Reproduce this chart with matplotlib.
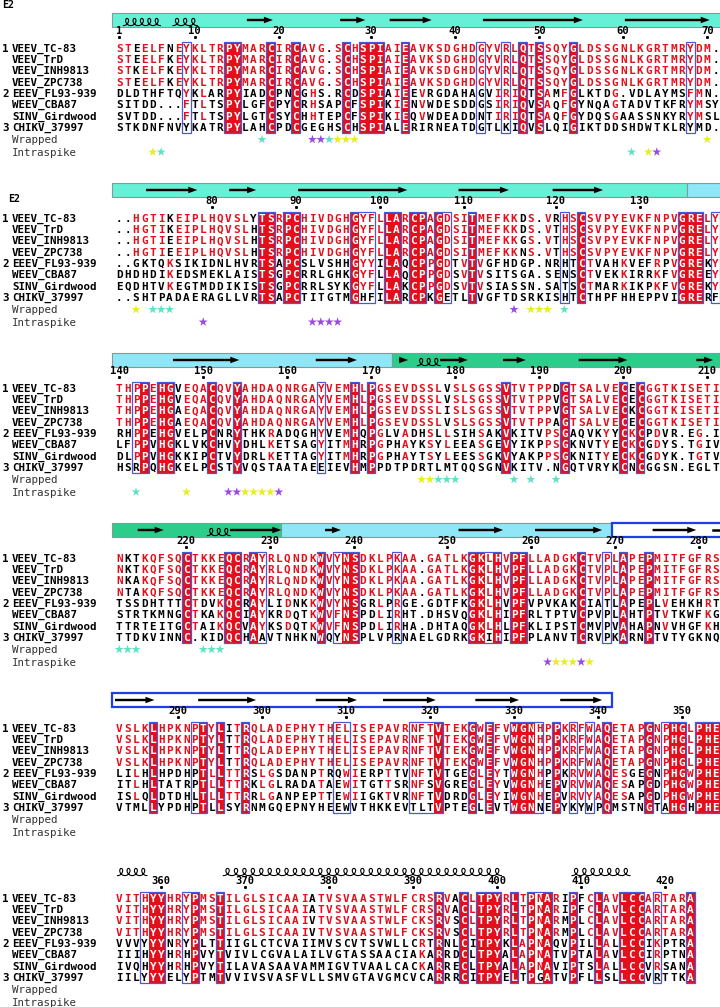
import matplotlib.pyplot as plt
from matplotlib.patches import Rectangle, FancyArrow
import numpy as np

names = ['VEEV_TC-83', 'VEEV_TrD', 'VEEV_INH9813', 'VEEV_ZPC738',
         'EEEV_FL93-939', 'WEEV_CBA87', 'SINV_Girdwood', 'CHIKV_37997']
group_tags = ['1', '', '', '', '2', '', '', '3']
groups = [[0, 1, 2, 3], [4, 5, 6], [7]]

seq_b1 = [
    "STEELFNEYKLTRPYMARCIRCAVG.SCHSPIAIEAVKSDGHDGYVRLQTSSQYGLDSSGNLKGRTMRYDM.",
    "STEELFKEYKLTRPYMARCIRCAVG.SCHSPIAIEAVKSDGHDGYVRLQTSSQYGLDSSGNLKGRTMRYDM.",
    "STKELFKEYKLTRPYMARCIRCAVG.SCHSPIAIEAVKSDGHDGYVRLQTSSQYGLDSSGNLKGRTMRYDM.",
    "STEELFKEYKLTRPYMARCIRCAVG.SCHSPIAIEAVKSDGHDGYVRLQTSSQYGLDSSGNLKGRTMRYDM.",
    "DLDTHFTQYKLARPYIADCPNCGHS.RCDSPIAIEEVRGDAHAGVIRIQTSAMFGLKTDG.VDLAYMSFMN.",
    "SITDD...FTLTSPYLGFCPYCRHSAPCFSPIKIENVWDESDDGSIRIQVSAQFGYNQAGTADVTKFRYMSY",
    "SVTDD...FTLTSPYLGTCSYCHHTEPCFSPIKIEQVWDEADDNTIRIQTSAQFGYDQSGAASSNKYRYMSL",
    "STKDNFNVYKATRPYLAHCPDCGEGHSCHSPIALERIRNEATDGTLKIQVSLQIGIKTDDSHDWTKLRYMD.",
]
seq_b2 = [
    "..HGTIKEIPLHQVSLYTSRPCHIVDGHGYFLLARCPAGDSITMEFKKDS.VRHSCSVPYEVKFNPVGRELY",
    "..HGTIKEIPLHQVSLHTSRPCHIVDGHGYFLLARCPAGDSITMEFKKDS.VTHSCSVPYEVKFNPVGRELY",
    "..HGTIEEIPLHQVSLHTSRPCHIVDGHGYFLLARCPAGDSITMEFKKGS.VTHSCSVPYEVKFNPVGRELY",
    "..HGTIEEIPLHQVSLHTSRPCHIVDGHGYFLLARCPAGDSITMEFKKNS.VTHSCSVPYEVKFNPVGRELY",
    "..GKTQKSIKIDNLHVRTSAPCSLVSHHGYYILAQCPPGDTVTVGFHDGP.NRHTCTVAHKVEFRPVGREKY",
    "DHDHDIKEDSMEKLAISTSGPCRRLGHKGYFLLAQCPPGDSVTVSITSGA.SENSCTVEKKIRRKFVGREEY",
    "EQDHTVKEGTMDDIKISTSGPCRRLSYKGYFLLAKCPPGDSVTVSIASSN.SATSCTMARKIKPKFVGREKY",
    "..SHTPADAERAGLLVRTSAPCTITGTMGHFILARCPKGETLTVGFTDSRKISHTCTHPFHHEPPVIGRERF",
]
seq_b3 = [
    "THPPEHGVEQACQVYAHDAQNRGAYVEMHLPGSEVDSSLVSLSGSSVTVTPPDGTSALVECECGGTKISETI",
    "THPPEHGVEQACQVYAHDAQNRGAYVEMHLPGSEVDSSLVSLSGSSVTVTPPVGTSALVECECGGTKISETI",
    "THPPEHGAEQACQVYAHDAQNRGAYVEMHLPGSEVDSSLISLSGSSVTVTPPVGTSALVECKCGGTKISETI",
    "THPPEHGAEQACQVYAHDAQNRGAYVEMHLPGSEVDSSLVSLSGSSVTVTPPAGTSALVECECGGTKISETI",
    "RHPPEHGVELPCNRYTHKRADQGHYVEMHQPGLVADHSLLSIHSAKVKITVPSGAQVKYYCKCPDVR.EG.I",
    "LFPPVHGKLVKCHVYDHLKETSAGYITMHRPGPHAYKSYLEEASGEVYIKPPSGKNVTYECKCGDYS.TGIV",
    "DLPPVHGKKIPCTVYDRLKETTAGYITMHRPGPHAYTSYLEESSGKVYAKPPSGKNITYECKCGDYK.TGTV",
    "HSRPQHGKELPCSTYVQSTAATAEEIEVHMPPDTPDRTLMTQQSGNVKITV.NGQTVRYKCNCGGSN.EGLT",
]
seq_b4 = [
    "NKTKQFSQCTKKEQCRAYRLQNDKWVYNSDKLPKAA.GATLKGKLHVPFLLADGKCTVPLAPEPMITFGFRS",
    "NKTKQFSQCTKKEQCRAYRLQNDKWVYNSDKLPKAA.GATLKGKLHVPFLLADGKCTVPLAPEPMITFGFRS",
    "NKAKQFSQCTKKEQCRAYRLQNDKWVYNSDKLPKAA.GATLKGKLHVPFLLADGKCTVPLAPEPMITFGFRS",
    "NTAKQFSQCTKKEQCRAYRLQNDKWVYNSDKLPKAA.GATLKGKLHVPFLLADGKCTVPLAPEPMITFGFRS",
    "TSSDHTTTCTDVKQCRAYLIDNKKWVYNSGRLPRGE.GDTFKGKLHVPFVPVKAKCIATLAPEPLVEHKHRT",
    "STRTKMNGCTKAKQCIAYKRDQTKWVFNSPDLIRHT.DHSVQGKLHIPFRLTPTVCPVPLAHTPTVTKWFKG",
    "TTRTEITGCTAIKQCVAYKSDQTKWVFNSPDLIRHA.DHTAQGKLHLPFKLIPSTCMVPVAHAPNVVHGFKH",
    "TTDKVINNC.KIDQCHAAVTNHKNWQYNSPLVPRNAELGDRKGKIHIPFPLANVTCRVPKARNPTVTYGKNQ",
]
seq_b5 = [
    "VSLKLHPKNPTYLITRQLADEPHYTHELISEPAVRNFTVTEKGWEFVWGNHPPKRFWAQETAPGNPHGLPHE",
    "VSLKLHPKNPTYLTTRQLADEPHYTHELISEPAVRNFTVTEKGWEFVWGNHPPKRFWAQETAPGNPHGLPHE",
    "VSLKLHPKNPTYLTTRQLADEPHYTHELISEPAVRNFTVTEKGWEFVWGNHPPKRFWAQETAPGNPHGLPHE",
    "VSLKLHPKNPTYLTTRQLADEPHYTHELISEPAVRNFTVTEKGWEFVWGNHPPKRFWAQETAPGNPHGLPHE",
    "LILHLHPDHPTLLTTRSLGSDANPTRQWIERPTTVNFTVTGEGLEYTWGNHPPKRVWAQESGEGNPHGWPHE",
    "ITLHLTATRPTLLTTRKLGLRADATAEWITGTTSRNFSVGREGLEYVWGNHEPVRVWAQESAPGDPHGWPHE",
    "ISLQLDTDHLTLLTTRRLGANPEPTTEWIIGKTVRNFTVDRDGLEYIWGNHEPVRVYAQESAPGDPHGWPHE",
    "VTMLLYPDHPTLLSYRNMGQEPNYHEEWVTHKKEVTLTVPTEGLEVTWGNNEPYKYWPQMSTNGTAHGHPHE",
]
seq_b6 = [
    "VITHYYHRYPMSTILGLSICAAIATVSVAASTWLFCRSRVACLTPYRLTPNARIPFCLAVLCCARTARA",
    "VITHYYHRYPMSTILGLSICAAIATVSVAASTWLFCRSRVACLTPYRLTPNARIPFCLAVLCCARTARA",
    "VITHYYHRYPMSTILGLSICAAIVTVSVAASTWLFCKSRVSCLTPYRLTPNARMPLCLAVLCCARTARA",
    "VITHYYHRYPMSTILGLSICAAIVTVSVAASTWLFCKSRVSCLTPYRLTPNARMPLCLAVLCCARTARA",
    "VVVYYYNRYPLTTIIGLCTCVAIIMVSCVTSVWLLCRTRNLCITPYKLAPNAQVPILLALLCCIKPTRA",
    "IIIHYYHRHPVYTVIVLCGVALAILVGTASSAACIAKARRDCLTPYALAPNATVPTALAVLCCIRPTNA",
    "IVQHYYHRHPVYTILAVASAAVAMMIGVTVAALCACKARRECLTPYALAPNAVIPTSLALLCCVRSANA",
    "IILYYYELYPTMTVVIVSVASFVLLSMVGTAVGMCVCARRRCITPYELTPGATVPFLLSLLCCVRTTKA",
]

# columns (1-based) framed for similarity across groups, besides strict identity
similar_b1 = [9, 44, 47, 69]
similar_b2 = [30, 31, 40, 54, 72]
similar_b3 = [3, 25]
similar_b4 = [18, 27, 34, 45, 59]
similar_b5 = [10, 27, 28, 36, 37, 38, 51, 55, 57, 66]
similar_b6 = [4, 9, 51, 65]

# secondary structure, in column units
bars_b1 = [(-0.3, 72.5, 'turq')]
bars_b2 = [(-0.4, 68.1, 'turq'), (68.1, 72.5, 'light')]
bars_b3 = [(-0.3, 33.0, 'light'), (33.0, 72.5, 'green')]
bars_b4 = [(-0.3, 19.8, 'green'), (19.8, 59.2, 'light'), (59.2, 72.5, 'box')]
bars_b5 = [(-0.3, 59.2, 'box')]
bars_b6 = []

strands_b1 = [(15.7, 18.8), (26.8, 29.8), (32.7, 37.7), (43.8, 55.7), (60.7, 70.8)]
strands_b2 = [(3.7, 9.8), (13.6, 16.8), (21.8, 34.8), (40.9, 46.9), (52.1, 58.1)]
strands_b3 = [(6.9, 14.8), (23.9, 28.8), (33.8, 34.9), (38.7, 42.0), (46.2, 48.9),
              (55.2, 61.0), (69.2, 71.2)]
strands_b4 = [(2.7, 5.8), (13.7, 19.8), (25.0, 26.9), (40.9, 46.2), (50.0, 58.0),
              (64.0, 69.2)]
strands_b5 = [(0.0, 4.7), (9.9, 16.8), (23.9, 28.8), (31.9, 38.2), (42.9, 48.1),
              (53.0, 58.0)]
strands_b6 = []

tails_b4 = [(71.2, 72.5)]

helices_b1 = [(1.0, 5.4, 5), (6.9, 9.8, 3)]
helices_b3 = [(36.0, 38.7, 3)]
helices_b4 = [(11.0, 13.7, 3)]
helices_b6 = [(0.3, 3.8, 4), (12.9, 46.0, 33), (54.4, 61.3, 7)]

# stars: (column, class)  y = yellow, c = cyan, p = purple
wrapped_b1 = [(18, 'c'), (24, 'p'), (25, 'p'), (26, 'c'), (27, 'y'), (28, 'y'), (29, 'y'), (71, 'y')]
intra_b1 = [(5, 'y'), (6, 'c'), (62, 'c'), (64, 'y'), (65, 'p')]
wrapped_b2 = [(3, 'y'), (5, 'c'), (6, 'c'), (7, 'c'), (48, 'p'), (50, 'y'), (51, 'y'), (52, 'y'), (54, 'c')]
intra_b2 = [(11, 'p'), (24, 'p'), (25, 'p'), (26, 'p'), (27, 'p')]
wrapped_b3 = [(37, 'y'), (38, 'y'), (39, 'c'), (40, 'c'), (41, 'c'), (48, 'c'), (50, 'c'), (53, 'c')]
intra_b3 = [(3, 'c'), (9, 'y'), (14, 'p'), (15, 'p'), (16, 'y'), (17, 'y'), (18, 'y'), (19, 'y'), (20, 'p')]
wrapped_b4 = [(1, 'c'), (2, 'c'), (3, 'c'), (11, 'c'), (12, 'c'), (13, 'c')]
intra_b4 = [(52, 'p'), (53, 'y'), (54, 'y'), (55, 'y'), (56, 'p'), (57, 'y')]

blocks = [
    dict(seqs=seq_b1, sim=similar_b1, bars=bars_b1, strands=strands_b1, tails=[],
         helices=helices_b1, wrapped=wrapped_b1, intra=intra_b1),
    dict(seqs=seq_b2, sim=similar_b2, bars=bars_b2, strands=strands_b2, tails=[],
         helices=[], wrapped=wrapped_b2, intra=intra_b2),
    dict(seqs=seq_b3, sim=similar_b3, bars=bars_b3, strands=strands_b3, tails=[],
         helices=helices_b3, wrapped=wrapped_b3, intra=intra_b3),
    dict(seqs=seq_b4, sim=similar_b4, bars=bars_b4, strands=strands_b4, tails=tails_b4,
         helices=helices_b4, wrapped=wrapped_b4, intra=intra_b4),
    dict(seqs=seq_b5, sim=similar_b5, bars=bars_b5, strands=strands_b5, tails=[],
         helices=[], wrapped=[], intra=[]),
    dict(seqs=seq_b6, sim=similar_b6, bars=bars_b6, strands=strands_b6, tails=[],
         helices=helices_b6, wrapped=[], intra=[]),
]

X0, CW = 115, 8.4
ROW0, DROW = 48, 11.3
BLOCK_H = 170
RED = '#e3101c'
FRAME = '#4a58d6'
FAM = 'DejaVu Sans Mono'
FS = 7.8
FS_SEQ = 7.9
bar_colors = {'turq': '#66f0d6', 'light': '#8ee6f6', 'green': '#2ccd8a'}
star_colors = {'y': '#e6ee22', 'c': '#5de3c4', 'p': '#9a4ae0'}
# residues counted as similar inside a group
sim_classes = ['FYW', 'KR']


def sim_class(a):
    for k in sim_classes:
        if a in k:
            return k
    return a


fig = plt.figure(figsize=(7.2, 10.07), dpi=100)
ax = fig.add_axes([0, 0, 1, 1])
ax.set_xlim(0, 720)
ax.set_ylim(1007, 0)
ax.axis('off')

ax.text(2, 5, 'E2', family=FAM, weight='bold', fontsize=7.2, va='center')
ax.text(8, 199, 'E2', family=FAM, weight='bold', fontsize=7.2, va='center')

resnum = 0
for b, blk in enumerate(blocks):
    off = BLOCK_H * b
    seqs = blk['seqs']
    n = len(seqs[0])
    ytop = off + ROW0 - 5.8
    ybot = off + ROW0 + 7 * DROW + 5.8

    # secondary structure
    for s, e, kind in blk['bars']:
        if kind == 'box':
            ax.add_patch(Rectangle((X0 + s * CW, off + 13), (e - s) * CW, 14,
                                   fc='white', ec='#1f3fe6', lw=1.6, zorder=1))
        else:
            ax.add_patch(Rectangle((X0 + s * CW, off + 13), (e - s) * CW, 14,
                                   fc=bar_colors[kind], ec='#7f9c98', lw=0.8, zorder=1))
    for s, e in blk['strands']:
        ax.add_patch(FancyArrow(X0 + s * CW, off + 20, (e - s) * CW, 0, width=2.4,
                                head_width=6.5, head_length=9, length_includes_head=True,
                                fc='black', ec='black', lw=0, zorder=3))
    for s, e in blk['tails']:
        ax.plot([X0 + s * CW, X0 + e * CW], [off + 20, off + 20], color='black', lw=1.8, zorder=3)
    for s, e, turns in blk['helices']:
        pitch = (e - s) * CW / turns
        t = np.linspace(0, 2 * np.pi * turns, 60 * turns)
        hx = X0 + s * CW + pitch / (2 * np.pi) * t + 0.42 * pitch * np.sin(t)
        hy = off + 22 + 3.6 * np.cos(t)
        ax.plot(hx, hy, color='black', lw=0.8, zorder=3)

    # ruler numbered on the first sequence
    for c in range(n):
        if seqs[0][c] != '.':
            resnum += 1
            if resnum == 1 or resnum % 10 == 0:
                xc = X0 + (c + 0.5) * CW
                ax.text(xc, off + 31, str(resnum), family=FAM, weight='bold', fontsize=7.6,
                        ha='center', va='center')
                ax.plot(xc, off + 36.8, marker='s', ms=1.1, color='black')

    # identity columns and frames
    ident = [c for c in range(n)
             if seqs[0][c] != '.' and all(s[c] == seqs[0][c] for s in seqs)]
    for c in ident:
        ax.add_patch(Rectangle((X0 + c * CW, ytop), CW, ybot - ytop, fc=RED, ec='none', zorder=1))
    framed = sorted(set(ident) | {c - 1 for c in blk['sim']})
    runs = []
    for c in framed:
        if runs and c == runs[-1][1] + 1:
            runs[-1][1] = c
        else:
            runs.append([c, c])
    for a, e in runs:
        ax.add_patch(Rectangle((X0 + a * CW, ytop), (e - a + 1) * CW, ybot - ytop,
                               fc='none', ec=FRAME, lw=0.9, zorder=2))

    # names and residues
    for r, seq in enumerate(seqs):
        y = off + ROW0 + r * DROW
        if group_tags[r]:
            ax.text(2, y + 3.6, group_tags[r], family=FAM, weight='bold', fontsize=FS, va='baseline')
        ax.text(12, y + 3.6, names[r], family=FAM, weight='bold', fontsize=FS, va='baseline')
        grp = [g for g in groups if r in g][0]
        for c, ch in enumerate(seq):
            if c in ident:
                col = 'white'
            elif ch != '.' and len(grp) > 1:
                col_res = [seqs[i][c] for i in grp]
                same = '.' not in col_res and len({sim_class(x) for x in col_res}) == 1
                col = RED if same else 'black'
            else:
                col = 'black'
            ax.text(X0 + (c + 0.5) * CW, y + 3.7, ch, family=FAM, weight='bold', fontsize=FS_SEQ,
                    color=col, ha='center', va='baseline', zorder=4)

    # annotation rows
    yw = off + 139.5
    yi = off + 152
    ax.text(12, yw + 3.6, 'Wrapped', family=FAM, fontsize=FS, color='#333333', va='baseline')
    ax.text(12, yi + 3.6, 'Intraspike', family=FAM, fontsize=FS, color='#333333', va='baseline')
    for stars, ys in ((blk['wrapped'], yw), (blk['intra'], yi)):
        if stars:
            xs = [X0 + (c - 0.5) * CW for c, k in stars]
            cs = [star_colors[k] for c, k in stars]
            ax.scatter(xs, [ys] * len(xs), marker='*', s=46, c=cs, edgecolors='none', zorder=4)

fig.savefig('out.png', dpi=100)
